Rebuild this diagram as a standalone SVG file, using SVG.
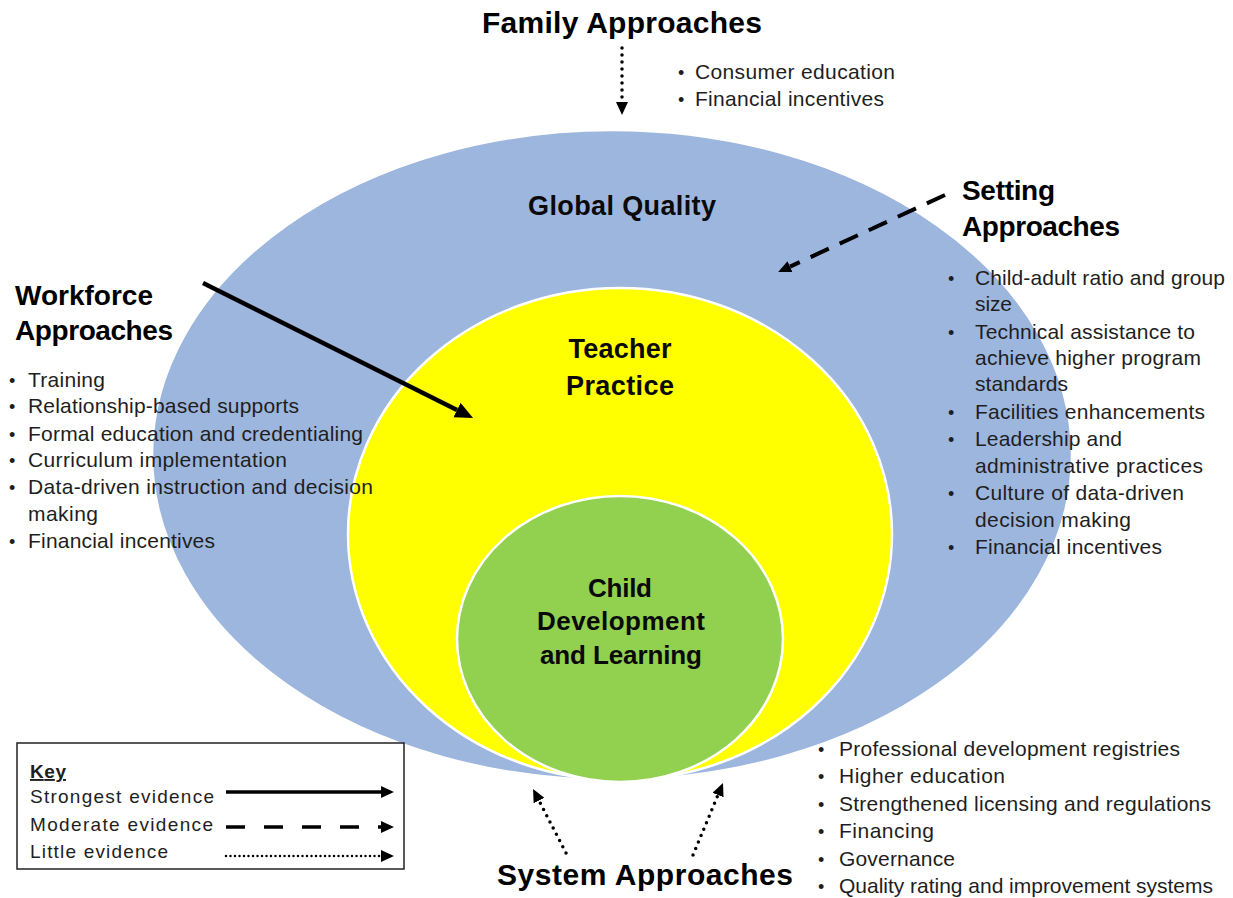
<svg xmlns="http://www.w3.org/2000/svg" width="1233" height="898" viewBox="0 0 1233 898">
<style>
.title{font-family:"Liberation Sans",Arial,sans-serif;font-weight:bold;fill:#000;}
.label{font-family:"Liberation Sans",Arial,sans-serif;font-weight:bold;fill:#0a0a0a;text-anchor:middle;}
.body{font-family:"Liberation Sans",Arial,sans-serif;font-size:21px;fill:#1e1e1e;}
.bullet{font-family:"Liberation Sans",Arial,sans-serif;font-size:18px;fill:#1e1e1e;}
.key{font-family:"Liberation Sans",Arial,sans-serif;font-size:19px;fill:#1e1e1e;}
.ring{stroke:#ffffff;stroke-width:2.5;}
.solid{fill:none;stroke:#000;stroke-width:4.5;}
.dash{fill:none;stroke:#000;stroke-width:4;stroke-dasharray:20 12;}
.dot{fill:none;stroke:#000;stroke-width:3.5;stroke-dasharray:0 7;stroke-linecap:round;}
.kdot{fill:none;stroke:#000;stroke-width:2.5;stroke-dasharray:0 4.5;stroke-linecap:round;}
</style>
<defs>
<marker id="bigHead" markerUnits="userSpaceOnUse" markerWidth="20" markerHeight="18" refX="0" refY="8" orient="auto">
<path d="M0,0 L18,8 L0,16 Z" fill="#000"/>
</marker>
<marker id="head" markerUnits="userSpaceOnUse" markerWidth="14" markerHeight="12" refX="0" refY="6" orient="auto">
<path d="M0,0 L13,6 L0,12 Z" fill="#000"/>
</marker>
</defs>
<rect width="1233" height="898" fill="#ffffff"/>

<g id="global-quality">
<ellipse class="ring" cx="612" cy="455" rx="460" ry="325" fill="#9db6de"/>
<text class="label" x="622" y="215" font-size="27" textLength="188">Global Quality</text>
</g>
<g id="teacher-practice">
<ellipse class="ring" cx="620" cy="534" rx="272" ry="246" fill="#ffff00"/>
<text class="label" x="620" y="358" font-size="27" textLength="103">Teacher</text>
<text class="label" x="620" y="395" font-size="27" textLength="108">Practice</text>
</g>
<g id="child-development">
<ellipse class="ring" cx="620" cy="639" rx="163" ry="143" fill="#92d050"/>
<text class="label" x="620" y="597" font-size="26" textLength="64">Child</text>
<text class="label" x="621" y="630" font-size="26" textLength="168">Development</text>
<text class="label" x="621" y="664" font-size="26" textLength="162">and Learning</text>
</g>

<g id="family-approaches">
<text class="title" x="482" y="33" font-size="30" textLength="280">Family Approaches</text>
<text class="bullet" x="678" y="79">•</text>
<text class="body" x="695" y="79" textLength="200">Consumer education</text>
<text class="bullet" x="678" y="106">•</text>
<text class="body" x="695" y="106" textLength="189">Financial incentives</text>
</g>

<g id="setting-approaches">
<text class="title" x="962" y="200" font-size="28" textLength="93">Setting</text>
<text class="title" x="962" y="236" font-size="28" textLength="158">Approaches</text>
<text class="bullet" x="948" y="285">•</text>
<text class="body" x="975" y="285" textLength="250">Child-adult ratio and group</text>
<text class="body" x="975" y="311" textLength="37">size</text>
<text class="bullet" x="948" y="339">•</text>
<text class="body" x="975" y="339" textLength="220">Technical assistance to</text>
<text class="body" x="975" y="365" textLength="226">achieve higher program</text>
<text class="body" x="975" y="391" textLength="93">standards</text>
<text class="bullet" x="948" y="419">•</text>
<text class="body" x="975" y="419" textLength="230">Facilities enhancements</text>
<text class="bullet" x="948" y="446">•</text>
<text class="body" x="975" y="446" textLength="147">Leadership and</text>
<text class="body" x="975" y="473" textLength="228">administrative practices</text>
<text class="bullet" x="948" y="500">•</text>
<text class="body" x="975" y="500" textLength="209">Culture of data-driven</text>
<text class="body" x="975" y="527" textLength="156">decision making</text>
<text class="bullet" x="948" y="554">•</text>
<text class="body" x="975" y="554" textLength="187">Financial incentives</text>
</g>

<g id="workforce-approaches">
<text class="title" x="15" y="305" font-size="28" textLength="138">Workforce</text>
<text class="title" x="15" y="340" font-size="28" textLength="158">Approaches</text>
<text class="bullet" x="9" y="387">•</text>
<text class="body" x="28" y="387" textLength="77">Training</text>
<text class="bullet" x="9" y="413">•</text>
<text class="body" x="28" y="413" textLength="271">Relationship-based supports</text>
<text class="bullet" x="9" y="441">•</text>
<text class="body" x="28" y="441" textLength="335">Formal education and credentialing</text>
<text class="bullet" x="9" y="467">•</text>
<text class="body" x="28" y="467" textLength="259">Curriculum implementation</text>
<text class="bullet" x="9" y="494">•</text>
<text class="body" x="28" y="494" textLength="345">Data-driven instruction and decision</text>
<text class="body" x="28" y="521" textLength="70">making</text>
<text class="bullet" x="9" y="548">•</text>
<text class="body" x="28" y="548" textLength="187">Financial incentives</text>
</g>

<g id="system-approaches">
<text class="title" x="497" y="885" font-size="30" textLength="296">System Approaches</text>
<text class="bullet" x="818" y="756">•</text>
<text class="body" x="839" y="756" textLength="341">Professional development registries</text>
<text class="bullet" x="818" y="783">•</text>
<text class="body" x="839" y="783" textLength="166">Higher education</text>
<text class="bullet" x="818" y="811">•</text>
<text class="body" x="839" y="811" textLength="372">Strengthened licensing and regulations</text>
<text class="bullet" x="818" y="838">•</text>
<text class="body" x="839" y="838" textLength="95">Financing</text>
<text class="bullet" x="818" y="866">•</text>
<text class="body" x="839" y="866" textLength="116">Governance</text>
<text class="bullet" x="818" y="893">•</text>
<text class="body" x="839" y="893" textLength="374">Quality rating and improvement systems</text>
</g>

<g id="connectors">
<line class="solid" x1="203" y1="283" x2="457" y2="410" marker-end="url(#bigHead)"/>
<line class="dash" x1="945" y1="195" x2="790" y2="266.6" marker-end="url(#head)"/>
<line class="dot" x1="622" y1="48" x2="622" y2="102" marker-end="url(#head)"/>
<line class="dot" x1="566" y1="853" x2="539" y2="800.6" marker-end="url(#head)"/>
<line class="dot" x1="693" y1="855" x2="718" y2="795" marker-end="url(#head)"/>
</g>

<g id="key">
<rect x="17" y="743" width="387" height="126" fill="#ffffff" stroke="#222" stroke-width="1.5"/>
<text class="key" x="30" y="778" font-weight="bold" text-decoration="underline" textLength="36">Key</text>
<text class="key" x="30" y="803" textLength="184">Strongest evidence</text>
<text class="key" x="30" y="831" textLength="183">Moderate evidence</text>
<text class="key" x="30" y="858" textLength="138">Little evidence</text>
<line x1="226" y1="792" x2="381" y2="792" stroke="#000" stroke-width="3.5" marker-end="url(#head)"/>
<line x1="226" y1="827" x2="381" y2="827" stroke="#000" stroke-width="3.5" stroke-dasharray="19 19" marker-end="url(#head)"/>
<line class="kdot" x1="226" y1="856" x2="381" y2="856" marker-end="url(#head)"/>
</g>
</svg>
